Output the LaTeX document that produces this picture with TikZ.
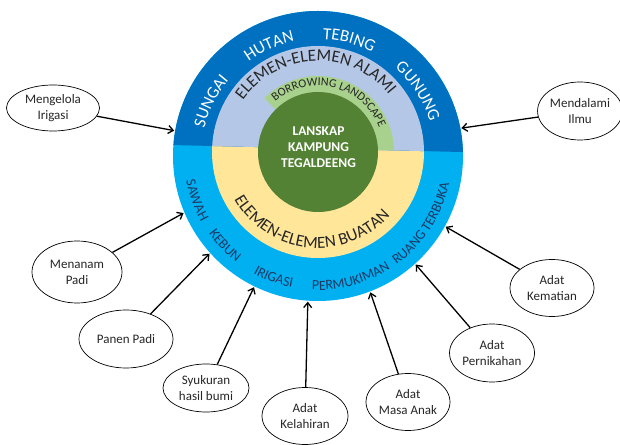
\documentclass[tikz,border=0pt]{standalone}
\usepackage{fontspec}
\setmainfont{Carlito}
\usetikzlibrary{shapes.geometric, arrows.meta, decorations.text}
\definecolor{dkblue}{HTML}{0070C0}
\definecolor{ltblue}{HTML}{00B0F0}
\definecolor{lav}{HTML}{B4C7E7}
\definecolor{ylw}{HTML}{FFE699}
\definecolor{ltgreen}{HTML}{A9D18E}
\definecolor{dkgreen}{HTML}{548235}
\definecolor{navy}{HTML}{1F3864}
\definecolor{ink}{HTML}{262626}
\newcommand\bigtxt{\fontsize{17}{17}\selectfont}
\newcommand\midtxt{\fontsize{14}{14}\selectfont}
\newcommand\smalltxt{\fontsize{12}{12}\selectfont}
\begin{document}
\begin{tikzpicture}[x=1pt,y=1pt,
  bubble/.style={ellipse, draw=black, line width=0.7pt, fill=white, inner sep=0pt,
    align=center, font=\fontsize{13}{16}\selectfont, text=ink},
  arr/.style={line width=1.3pt, -{Straight Barb[length=5pt,width=8pt]}},
  toplabel/.style={decorate, decoration={text along path, text align=center, text color=white, text={|\bigtxt|#1}}},
  botlabel/.style={decorate, decoration={text along path, text align=center, text color=navy, text={|\midtxt|#1}}},
  elemlabel/.style={decorate, decoration={text along path, text align=center, text color=ink, text={|\bigtxt|#1}}},
  borrowlabel/.style={decorate, decoration={text along path, text align=center, text color=ink, text={|\smalltxt|#1}}},
]
\useasboundingbox (0,0) rectangle (620,444);
\coordinate (O) at (318,288);
\coordinate (I) at (318,292);
% rings
\fill[ltblue] (O) circle (145);
\fill[ylw] (I) circle (106);
\begin{scope}
  \clip (100,300.7) -- (540,290.1) -- (540,444) -- (100,444) -- cycle;
  \fill[dkblue] (O) circle (145);
  \fill[lav] (I) circle (106);
  \fill[ltgreen] (I) -- plot[domain=135:-10, samples=146] ({318+76*cos(\x)}, {292+76*sin(\x)}) -- cycle;
\end{scope}
\fill[dkgreen] (I) circle (60);
\node[circle, minimum size=292pt, inner sep=0pt, outer sep=0pt] (ring) at (O) {};
\node[font=\fontsize{13.5}{16}\selectfont\bfseries, text=white, align=center] (core) at (318.5,297) {LANSKAP\\KAMPUNG\\TEGALDEENG};

% curved labels: top ring (centre O = (318,288))
\path[toplabel=SUNGAI] plot[domain=183:123, samples=61] ({318+117*cos(\x)}, {288+117*sin(\x)});
\path[toplabel=HUTAN] plot[domain=144:84, samples=61] ({318+117*cos(\x)}, {288+117*sin(\x)});
\path[toplabel=TEBING] plot[domain=105:45, samples=61] ({318+117*cos(\x)}, {288+117*sin(\x)});
\path[toplabel=GUNUNG] plot[domain=63:3, samples=61] ({318+117*cos(\x)}, {288+117*sin(\x)});
% inner labels (centre I = (318,292))
\path[elemlabel=ELEMEN-ELEMEN ALAMI] plot[domain=152:32, samples=121] ({318+91*cos(\x)}, {292+91*sin(\x)});
\path[borrowlabel=BORROWING LANDSCAPE] plot[domain=136:16, samples=121] ({318+66*cos(\x)}, {292+66*sin(\x)});
\path[elemlabel=ELEMEN-ELEMEN BUATAN] plot[domain=194:334, samples=141] ({318+96*cos(\x)}, {292+96*sin(\x)});
% bottom ring labels
\path[botlabel=SAWAH] plot[domain=170:230, samples=61] ({318+134*cos(\x)}, {288+134*sin(\x)});
\path[botlabel=KEBUN] plot[domain=194:254, samples=61] ({318+134*cos(\x)}, {288+134*sin(\x)});
\path[botlabel=IRIGASI] plot[domain=220:280, samples=61] ({318+134*cos(\x)}, {288+134*sin(\x)});
\path[botlabel=PERMUKIMAN] plot[domain=255:315, samples=61] ({318+134*cos(\x)}, {288+134*sin(\x)});
\path[botlabel=RUANG TERBUKA] plot[domain=287:367, samples=81] ({318+134*cos(\x)}, {288+134*sin(\x)});

% bubbles
\node[bubble, minimum width=93pt, minimum height=46pt] (mengelola) at (53,336) {Mengelola\\Irigasi};
\node[bubble, minimum width=84pt, minimum height=58pt] (mendalami) at (580,333) {Mendalami\\Ilmu};
\node[bubble, minimum width=90pt, minimum height=62pt] (menanam) at (77,172) {Menanam\\Padi};
\node[bubble, minimum width=94pt, minimum height=58pt] (panen) at (126,105) {Panen Padi};
\node[bubble, minimum width=86pt, minimum height=48pt] (syukuran) at (206,56) {Syukuran\\hasil bumi};
\node[bubble, minimum width=86pt, minimum height=57pt] (kelahiran) at (305,28) {Adat\\Kelahiran};
\node[bubble, minimum width=84pt, minimum height=57pt] (masaanak) at (408,42) {Adat\\Masa Anak};
\node[bubble, minimum width=85pt, minimum height=58pt] (pernikahan) at (492,91) {Adat\\Pernikahan};
\node[bubble, minimum width=84pt, minimum height=57pt] (kematian) at (552,156) {Adat\\Kematian};

% arrows
\draw[arr] (mengelola) -- (ring.170);
\draw[arr] (mendalami) -- (ring.11);
\draw[arr] (menanam) -- (ring.203);
\draw[arr] (panen) -- (ring.222);
\draw[arr] (syukuran) -- (ring.244);
\draw[arr] (kelahiran) -- (ring.266);
\draw[arr] (masaanak) -- (ring.291);
\draw[arr] (pernikahan) -- (ring.312);
\draw[arr] (kematian) -- (ring.331);
\end{tikzpicture}
\end{document}
